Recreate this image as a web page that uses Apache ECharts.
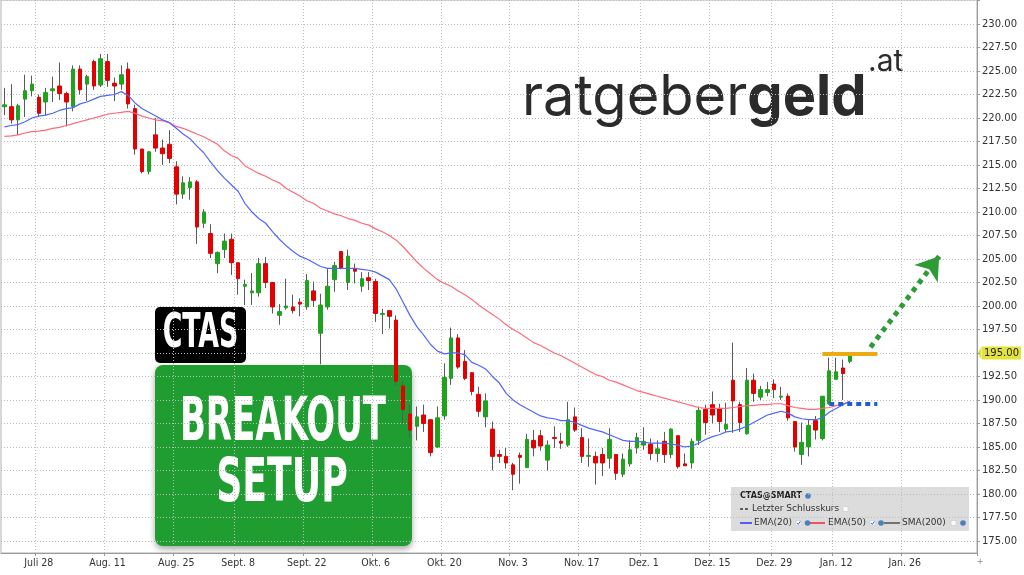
<!DOCTYPE html>
<html><head><meta charset="utf-8">
<script src="https://cdn.jsdelivr.net/npm/echarts@6/dist/echarts.min.js"></script>
<style>html,body{margin:0;padding:0;background:#fff}#c{width:1024px;height:575px}</style>
</head><body><div id="c"></div>
<script>
// trading days (categories), incl. future weekdays shown on the axis
const tradingDays = {
  '2025-07': [21,22,23,24,25,28,29,30,31],
  '2025-08': [1,4,5,6,7,8,11,12,13,14,15,18,19,20,21,22,25,26,27,28,29],
  '2025-09': [2,3,4,5,8,9,10,11,12,15,16,17,18,19,22,23,24,25,26,29,30],
  '2025-10': [1,2,3,6,7,8,9,10,13,14,15,16,17,20,21,22,23,24,27,28,29,30,31],
  '2025-11': [3,4,5,6,7,10,11,12,13,14,17,18,19,20,21,24,25,26,28],
  '2025-12': [1,2,3,4,5,8,9,10,11,12,15,16,17,18,19,22,23,24,26,29,30,31],
  '2026-01': [2,5,6,7,8,9,12,13,14,15,16,19,20,21,22,23,26,27,28,29,30],
  '2026-02': [2,3,4,5,6,9]
};
const tickDates  = ['2025-07-28','2025-08-11','2025-08-25','2025-09-08','2025-09-22','2025-10-06','2025-10-20','2025-11-03','2025-11-17','2025-12-01','2025-12-15','2025-12-29','2026-01-12','2026-01-26'];
const tickLabels = ['Juli 28','Aug. 11','Aug. 25','Sept. 8','Sept. 22','Okt. 6','Okt. 20','Nov. 3','Nov. 17','Dez. 1','Dez. 15','Dez. 29','Jan. 12','Jan. 26'];
const yLabelMin = 175, yLabelMax = 230;

// CTAS daily candles [open, close, low, high]
const candles = [
 [221.2,221.4,220.3,223.2],[221.2,219.8,219.4,223.6],[219.8,221.3,218.2,221.5],[222.0,222.9,220.1,224.6],[222.9,223.6,222.3,224.5],
 [222.2,220.5,220.1,222.5],[221.7,222.7,220.3,223.2],[222.9,223.1,221.7,224.4],[223.4,222.6,221.9,225.9],[222.6,221.7,219.1,222.8],
 [221.2,225.2,220.7,225.6],[225.2,223.0,222.5,225.6],[223.6,224.4,221.8,224.6],[226.0,223.4,223.0,226.2],[223.5,226.3,223.3,226.8],
 [226.0,224.0,223.3,226.8],[223.7,223.4,221.8,224.3],[223.6,224.6,223.0,225.6],[225.2,221.5,221.0,225.9],[221.0,216.7,216.1,221.4],
 [216.7,214.3,214.1,216.7],[214.3,216.4,214.0,216.5],[218.2,216.8,216.4,220.0],[216.8,216.2,215.0,217.7],[217.2,215.7,215.2,218.7],
 [214.8,211.9,210.8,215.4],[211.9,213.1,211.4,213.8],[212.6,213.2,211.3,213.7],[213.2,208.4,206.6,213.4],[208.8,210.0,208.3,210.3],
 [207.7,205.6,205.1,208.7],[204.5,205.7,203.5,205.8],[206.0,206.9,205.1,207.7],[207.1,204.6,203.3,207.7],[204.6,202.9,201.2,204.6],
 [202.1,202.3,200.1,202.8],[201.4,201.6,200.1,203.5],[201.4,204.5,201.0,205.1],[204.5,202.5,201.9,205.2],[202.5,199.9,199.2,202.5],
 [199.0,199.4,198.0,200.2],[199.8,200.0,199.6,202.9],[199.9,199.5,199.2,201.2],[200.4,200.2,198.9,200.8],[199.9,202.7,199.6,203.4],
 [201.6,200.6,199.9,202.6],[197.1,200.1,193.8,201.3],[199.9,202.1,199.6,204.0],[202.8,204.3,201.5,204.7],[205.8,204.0,203.9,205.8],
 [202.5,205.3,201.7,206.0],[204.0,203.7,202.4,204.5],[202.1,202.9,201.5,203.6],[203.0,202.7,201.7,203.6],[202.6,199.2,198.3,202.9],
 [199.1,199.2,197.0,199.7],[199.5,198.9,197.6,199.5],[198.5,192.0,191.5,199.0],[191.5,189.0,187.5,192.0],[188.5,186.8,186.0,189.5],
 [187.2,188.2,185.7,189.3],[188.4,187.5,186.6,189.5],[187.9,184.4,184.0,187.9],[185.0,188.1,184.9,189.3],[188.3,192.4,187.9,193.9],
 [192.3,196.6,191.6,197.7],[196.6,193.5,193.3,197.0],[194.1,192.3,192.1,195.3],[192.9,190.9,190.5,192.9],[190.6,188.8,188.2,191.4],
 [188.2,189.9,187.1,190.7],[186.9,184.0,182.5,187.7],[184.2,184.0,183.3,184.7],[184.0,183.3,182.7,184.9],[183.1,182.1,180.4,183.3],
 [184.1,183.9,181.1,184.4],[182.8,185.8,182.8,186.4],[185.7,184.9,184.0,186.8],[186.2,185.1,184.6,186.8],[183.6,185.2,182.5,185.7],
 [186.0,185.9,184.9,187.2],[185.6,185.4,184.8,186.5],[185.2,187.9,185.0,189.8],[188.2,186.8,186.6,189.2],[186.0,184.0,183.3,187.0],
 [184.0,184.1,182.9,185.9],[184.0,183.3,181.0,184.5],[184.2,183.3,181.9,184.9],[183.8,185.8,182.7,187.0],[184.2,182.2,181.5,184.2],
 [182.1,183.7,181.8,184.3],[183.2,184.7,182.9,185.7],[184.9,186.0,184.3,186.5],[185.2,185.6,184.7,187.1],[185.3,184.3,183.6,185.9],
 [184.3,184.8,183.4,185.7],[185.6,184.2,183.3,186.6],[184.2,186.9,183.8,187.0],[186.2,182.9,182.7,186.2],[183.2,183.0,183.0,184.3],
 [183.3,185.6,182.7,185.9],[185.7,188.9,185.2,189.3],[189.0,187.6,186.3,189.5],[189.5,188.4,187.5,190.9],[189.1,187.7,186.6,189.6],
 [186.9,187.4,186.6,189.7],[192.1,189.9,186.5,196.1],[189.5,187.6,186.6,189.8],[186.4,192.1,186.3,193.4],[192.1,190.7,189.8,192.8],
 [190.3,191.1,190.0,191.5],[190.8,191.1,190.4,191.9],[191.7,191.1,190.2,192.2],[190.3,190.4,190.0,191.4],[190.4,188.1,187.8,190.7],
 [187.7,185.0,184.5,187.7],[184.2,185.5,183.1,187.6],[185.0,187.3,184.0,187.9],[187.8,186.8,185.8,188.3],[185.9,190.4,185.7,190.4],
 [189.6,193.1,189.5,194.5],[192.2,193.0,192.2,194.5],[193.4,192.8,190.0,194.3],[194.1,194.9,193.9,195.0]
];

// indicator lines
const ema20 = [219.05,219.2,219.3,219.6,220.0,220.2,220.3,220.5,220.8,221.0,221.1,221.5,221.7,222.0,222.3,222.4,222.5,222.8,222.4,221.6,
 221.0,220.6,220.2,219.8,219.5,218.9,218.3,217.8,217.0,216.3,215.3,214.4,213.6,212.9,212.2,210.9,210.0,209.3,208.8,207.9,
 207.1,206.4,205.8,205.3,205.0,204.6,204.2,204.0,204.0,204.0,204.0,204.0,203.9,203.8,203.6,203.2,202.8,201.8,200.4,199.0,
 197.8,196.9,195.9,195.2,194.9,195.0,195.0,194.8,194.0,193.7,193.3,192.5,191.8,190.7,190.0,189.5,189.1,188.7,188.3,188.1,
 188.0,187.8,187.8,187.6,187.3,187.0,186.8,186.6,186.3,186.0,185.7,185.6,185.6,185.5,185.4,185.4,185.4,185.3,185.2,185.0,
 185.1,185.4,185.8,186.1,186.3,186.6,186.7,186.9,187.2,187.6,188.0,188.4,188.6,188.8,188.6,188.2,188.0,187.9,187.9,188.1,
 188.7,189.1,189.5,189.9];
const ema50 = [218.05,218.1,218.2,218.4,218.55,218.6,218.7,218.9,219.0,219.2,219.4,219.6,219.8,220.0,220.2,220.4,220.5,220.6,220.7,220.5,
 220.2,220.0,219.8,219.7,219.5,219.1,218.9,218.6,218.3,218.0,217.6,217.2,216.5,216.0,215.7,214.9,214.5,214.1,213.8,213.4,
 213.1,212.5,212.1,211.7,211.2,210.9,210.4,210.1,209.8,209.6,209.3,209.1,208.8,208.6,208.2,207.9,207.5,207.0,206.3,205.5,
 204.7,204.0,203.4,202.8,202.4,202.1,201.6,201.2,200.7,200.1,199.6,199.1,198.6,198.0,197.5,197.1,196.6,196.1,195.8,195.4,
 195.0,194.7,194.3,193.9,193.5,193.1,192.7,192.5,192.1,191.9,191.6,191.3,191.0,190.8,190.6,190.4,190.2,190.0,189.8,189.6,
 189.4,189.2,189.1,189.1,189.1,189.1,189.2,189.3,189.4,189.4,189.5,189.5,189.6,189.6,189.4,189.2,189.1,189.0,189.0,189.1,
 189.2,189.4,189.6,189.8];

// annotations
const breakoutLevel = 194.9;
const supportLevel = 189.6;
const breakoutSpan = ['2026-01-08', '2026-01-20'];
const supportSpan  = ['2026-01-09', '2026-01-20'];
const arrowFrom = ['2026-01-19', 195.6];
const arrowTo   = ['2026-02-02', 205.3];
const priceMarker = 195;

const categories = [];
for (const m of Object.keys(tradingDays)) tradingDays[m].forEach(d => categories.push(m + '-' + String(d).padStart(2, '0')));
const isTick = (i, v) => tickDates.indexOf(v) >= 0;
const GREEN = '#1fa31f', RED = '#e20000', WICK = '#5a5a5a';
const gridLine = {type: [1, 2], color: '#bdbdbd', width: 1};
const condensed = "'Liberation Sans Narrow', 'DejaVu Sans Condensed', sans-serif";

const chart = echarts.init(document.getElementById('c'), null, {renderer: 'canvas'});
const option = {
  animation: false,
  backgroundColor: '#fff',
  grid: {left: 1, right: 44, top: 0, bottom: 22, show: true, borderColor: '#b0b0b0', borderWidth: 1},
  xAxis: {
    type: 'category', data: categories, boundaryGap: true,
    axisLine: {lineStyle: {color: '#9a9a9a'}},
    axisTick: {show: true, interval: isTick, length: 3, lineStyle: {color: '#9a9a9a'}},
    axisLabel: {interval: isTick, formatter: v => tickLabels[tickDates.indexOf(v)], margin: 5,
      fontFamily: "'DejaVu Sans Condensed', 'DejaVu Sans', sans-serif", fontSize: 10.5, color: '#333'},
    splitLine: {show: true, interval: isTick, lineStyle: gridLine}
  },
  yAxis: {
    type: 'value', position: 'right', min: 173.72, max: 232.55, splitNumber: 23, minInterval: 2.5, maxInterval: 2.5,
    axisLine: {show: true, lineStyle: {color: '#9a9a9a'}},
    axisTick: {show: true, length: 3, lineStyle: {color: '#9a9a9a'}},
    axisLabel: {showMinLabel: false, showMaxLabel: false, margin: 5, color: '#333',
      fontFamily: "'DejaVu Sans', sans-serif", fontSize: 10,
      formatter: v => (v < yLabelMin - 1e-6 || v > yLabelMax + 1e-6) ? '' :
        (Math.abs(v - priceMarker) < 1e-6 ? '{hl|' + v.toFixed(2) + '}' : v.toFixed(2)),
      rich: {hl: {backgroundColor: '#e3e33c', color: '#222', padding: [2, 2, 1, 2], fontFamily: "'DejaVu Sans', sans-serif", fontSize: 10}}},
    splitLine: {show: true, lineStyle: gridLine}
  },
  series: [
    {type: 'candlestick', name: 'wick', data: candles, barWidth: 1, silent: true,
     itemStyle: {color: WICK, color0: WICK, borderColor: WICK, borderColor0: WICK, borderWidth: 1}},
    {type: 'candlestick', name: 'body', data: candles.map(([o, c]) => [o, c, Math.min(o, c), Math.max(o, c)]), barWidth: 4, silent: true,
     itemStyle: {color: GREEN, color0: RED, borderColor: GREEN, borderColor0: RED, borderWidth: 1}},
    {type: 'line', name: 'EMA(50)', data: ema50, showSymbol: false, silent: true, lineStyle: {color: '#ff6a7a', width: 1.2}},
    {type: 'line', name: 'EMA(20)', data: ema20, showSymbol: false, silent: true, lineStyle: {color: '#5066ff', width: 1.2},
     markLine: {silent: true, animation: false, label: {show: false}, data: [
       [{coord: [breakoutSpan[0], breakoutLevel], symbol: 'none', lineStyle: {color: '#ebab12', width: 4, type: 'solid'}},
        {coord: [breakoutSpan[1], breakoutLevel], symbol: 'none'}],
       [{coord: [supportSpan[0], supportLevel], symbol: 'none', lineStyle: {color: '#1f5ccc', width: 4, type: [5, 4]}},
        {coord: [supportSpan[1], supportLevel], symbol: 'none'}],
       [{coord: arrowFrom, symbol: 'none', lineStyle: {color: '#2e9c36', width: 5, type: [5, 5]}},
        {coord: arrowTo, symbol: 'arrow', symbolSize: [22, 22]}]
     ]}}
  ],
  graphic: [
    {type: 'text', x: 522, y: 98, style: {text: '{r|ratgeber}{b|geld}', fill: '#2b2b2b', verticalAlign: 'middle', textAlign: 'left',
      rich: {r: {fontFamily: 'Inter, Lato, sans-serif', fontSize: 56, fontWeight: 400, fill: '#2b2b2b'},
             b: {fontFamily: 'Inter, Lato, sans-serif', fontSize: 56, fontWeight: 700, fill: '#2b2b2b'}}}},
    {type: 'text', x: 868, y: 62, style: {text: '.at', fill: '#2b2b2b', font: '400 30px Inter, Lato, sans-serif', verticalAlign: 'middle'}},
    {type: 'rect', shape: {x: 155, y: 307, width: 91, height: 56, r: 5}, style: {fill: '#000'}},
    {type: 'text', x: 200.5, y: 335, scaleX: 0.62, style: {text: 'CTAS', fill: '#fff', textAlign: 'center', verticalAlign: 'middle',
      font: 'bold 48px ' + condensed}},
    {type: 'rect', shape: {x: 155, y: 365, width: 257, height: 181, r: 8},
     style: {fill: '#1f9d31', shadowBlur: 6, shadowColor: 'rgba(0,0,0,0.35)', shadowOffsetY: 3}},
    {type: 'text', x: 283, y: 424, scaleX: 0.62, style: {text: 'BREAKOUT', fill: '#fff', textAlign: 'center', verticalAlign: 'middle',
      font: 'bold 61px ' + condensed}},
    {type: 'text', x: 282, y: 485, scaleX: 0.66, style: {text: 'SETUP', fill: '#fff', textAlign: 'center', verticalAlign: 'middle',
      font: 'bold 61px ' + condensed}},
    // legend panel
    {type: 'rect', shape: {x: 731, y: 487, width: 238, height: 44}, style: {fill: '#dcdcdc'}},
    {type: 'text', x: 740, y: 496, style: {text: 'CTAS@SMART', fill: '#222', verticalAlign: 'middle', font: "bold 8px 'DejaVu Sans', sans-serif"}},
    {type: 'circle', shape: {cx: 808, cy: 496, r: 2.8}, style: {fill: '#4a7fc0'}},
    {type: 'line', shape: {x1: 740, y1: 509, x2: 749, y2: 509}, style: {stroke: '#333', lineWidth: 1.4, lineDash: [3, 2]}},
    {type: 'text', x: 752, y: 509, style: {text: 'Letzter Schlusskurs', fill: '#333', verticalAlign: 'middle', font: "9px 'DejaVu Sans', sans-serif"}},
    {type: 'rect', shape: {x: 843, y: 506.5, width: 5, height: 5}, style: {fill: '#fafafa', stroke: '#c8c8c8', lineWidth: 0.6}},
    {type: 'line', shape: {x1: 740, y1: 523, x2: 752, y2: 523}, style: {stroke: '#2222ff', lineWidth: 1.4}},
    {type: 'text', x: 754, y: 523, style: {text: 'EMA(20)', fill: '#333', verticalAlign: 'middle', font: "9px 'DejaVu Sans', sans-serif"}},
    {type: 'rect', shape: {x: 796, y: 520.5, width: 5, height: 5}, style: {fill: '#fafafa', stroke: '#c8c8c8', lineWidth: 0.6}},
    {type: 'polyline', shape: {points: [[797, 523], [798.3, 524.4], [800.3, 521.4]]}, style: {stroke: '#2a5fc0', lineWidth: 0.9, fill: null}},
    {type: 'circle', shape: {cx: 807.5, cy: 523, r: 2.8}, style: {fill: '#4a7fc0'}},
    {type: 'line', shape: {x1: 810, y1: 523, x2: 825, y2: 523}, style: {stroke: '#e81e2e', lineWidth: 1.4}},
    {type: 'text', x: 828, y: 523, style: {text: 'EMA(50)', fill: '#333', verticalAlign: 'middle', font: "9px 'DejaVu Sans', sans-serif"}},
    {type: 'rect', shape: {x: 870, y: 520.5, width: 5, height: 5}, style: {fill: '#fafafa', stroke: '#c8c8c8', lineWidth: 0.6}},
    {type: 'polyline', shape: {points: [[871, 523], [872.3, 524.4], [874.3, 521.4]]}, style: {stroke: '#2a5fc0', lineWidth: 0.9, fill: null}},
    {type: 'circle', shape: {cx: 881, cy: 523, r: 2.8}, style: {fill: '#4a7fc0'}},
    {type: 'line', shape: {x1: 884, y1: 523, x2: 900, y2: 523}, style: {stroke: '#444', lineWidth: 1.4}},
    {type: 'text', x: 902, y: 523, style: {text: 'SMA(200)', fill: '#333', verticalAlign: 'middle', font: "9px 'DejaVu Sans', sans-serif"}},
    {type: 'rect', shape: {x: 951, y: 520.5, width: 5, height: 5}, style: {fill: '#fafafa', stroke: '#c8c8c8', lineWidth: 0.6}},
    {type: 'circle', shape: {cx: 963, cy: 523, r: 2.8}, style: {fill: '#4a7fc0'}},
    {type: 'text', x: 980, y: 562, style: {text: '+', fill: '#888', textAlign: 'center', verticalAlign: 'middle', font: "8px 'DejaVu Sans', sans-serif"}}
  ]
};
chart.setOption(option);
// small pointer on the highlighted price label
const py = chart.convertToPixel({yAxisIndex: 0}, priceMarker);
const ax = chart.convertToPixel({xAxisIndex: 0}, categories[categories.length - 1]) + 3.5;
chart.setOption({graphic: option.graphic.concat([
  {type: 'polygon', shape: {points: [[ax + 0.5, py], [ax + 4.5, py - 6.5], [ax + 4.5, py + 6.5]]}, style: {fill: '#e3e33c'}}
])});
</script>
</body></html>
